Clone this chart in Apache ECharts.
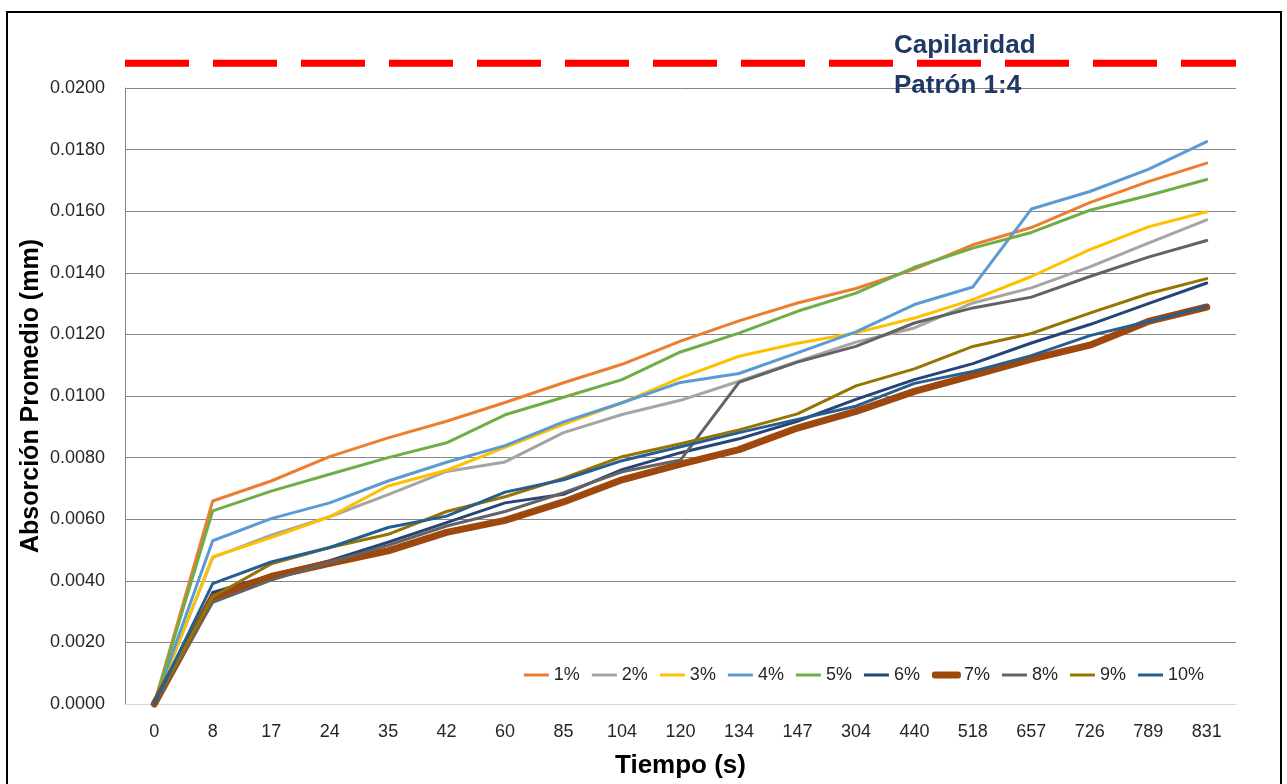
<!DOCTYPE html>
<html>
<head>
<meta charset="utf-8">
<script src="https://cdn.jsdelivr.net/npm/echarts@6/dist/echarts.min.js"></script>
<style>
html,body{margin:0;padding:0;background:#fff;}
#chart{width:1287px;height:784px;}
</style>
</head>
<body>
<div id="chart"></div>
<script>
// ---- data ----
const categories = ['0','8','17','24','35','42','60','85','104','120','134','147','304','440','518','657','726','789','831'];
const seriesNames = ['1%','2%','3%','4%','5%','6%','7%','8%','9%','10%'];
const s1  = [0, 0.00659, 0.00724, 0.00803, 0.00864, 0.00918, 0.00979, 0.01043, 0.01103, 0.01178, 0.01244, 0.01302, 0.01349, 0.01412, 0.01491, 0.01547, 0.01628, 0.01696, 0.01756];
const s2  = [0, 0.00475, 0.00548, 0.00608, 0.00680, 0.00755, 0.00786, 0.00881, 0.00940, 0.00986, 0.01048, 0.01112, 0.01175, 0.01221, 0.01302, 0.01351, 0.01419, 0.01496, 0.01572];
const s3  = [0, 0.00478, 0.00540, 0.00608, 0.00708, 0.00759, 0.00833, 0.00908, 0.00978, 0.01059, 0.01129, 0.01171, 0.01205, 0.01253, 0.01313, 0.01388, 0.01475, 0.01549, 0.01598];
const s4  = [0, 0.00530, 0.00602, 0.00653, 0.00724, 0.00785, 0.00839, 0.00916, 0.00978, 0.01044, 0.01073, 0.01140, 0.01208, 0.01297, 0.01354, 0.01607, 0.01664, 0.01736, 0.01826];
const s5  = [0, 0.00627, 0.00691, 0.00746, 0.00800, 0.00848, 0.00939, 0.00996, 0.01053, 0.01143, 0.01204, 0.01275, 0.01334, 0.01418, 0.01480, 0.01531, 0.01603, 0.01651, 0.01703];
const s6  = [0, 0.00362, 0.00418, 0.00465, 0.00525, 0.00589, 0.00653, 0.00681, 0.00761, 0.00816, 0.00861, 0.00918, 0.00989, 0.01053, 0.01105, 0.01172, 0.01232, 0.01300, 0.01367];
const s7  = [0, 0.00346, 0.00414, 0.00457, 0.00497, 0.00557, 0.00596, 0.00656, 0.00728, 0.00779, 0.00826, 0.00896, 0.00950, 0.01015, 0.01067, 0.01120, 0.01165, 0.01242, 0.01289];
const s8  = [0, 0.00330, 0.00402, 0.00460, 0.00515, 0.00578, 0.00625, 0.00686, 0.00754, 0.00792, 0.01044, 0.01110, 0.01161, 0.01237, 0.01286, 0.01321, 0.01388, 0.01451, 0.01505];
const s9  = [0, 0.00348, 0.00455, 0.00508, 0.00551, 0.00625, 0.00673, 0.00733, 0.00803, 0.00845, 0.00890, 0.00942, 0.01033, 0.01088, 0.01161, 0.01203, 0.01269, 0.01332, 0.01381];
const s10 = [0, 0.00391, 0.00461, 0.00508, 0.00573, 0.00610, 0.00688, 0.00728, 0.00790, 0.00835, 0.00881, 0.00924, 0.00967, 0.01041, 0.01080, 0.01131, 0.01196, 0.01242, 0.01291];
const capilaridadPatron = 0.0208;
const capilaridadLabel = 'Capilaridad\nPatrón 1:4';
const yAxisTitle = 'Absorción Promedio (mm)';
const xAxisTitle = 'Tiempo (s)';

const allValues = [s1,s2,s3,s4,s5,s6,s7,s8,s9,s10];
const colors = ['#ED7D31','#A5A5A5','#FFC000','#5B9BD5','#70AD47','#264478','#9E480E','#636363','#997300','#255E91'];
const widths = [3,3,3,3,3,3,7,3,3,3];

const chart = echarts.init(document.getElementById('chart'), null, {renderer:'canvas'});
const FONT = '"Liberation Sans", Arial, sans-serif';

const series = allValues.map((vals, k) => ({
  name: seriesNames[k],
  type: 'line',
  data: vals,
  symbol: 'none',
  smooth: false,
  clip: false,
  lineStyle: { color: colors[k], width: widths[k], cap: 'round', join: 'round' },
  itemStyle: { color: colors[k] },
  emphasis: { disabled: true },
  z: 3 + k
}));
// reference line (Capilaridad Patrón 1:4), spans the full plot width on a hidden 0..1 axis
series.push({
  name: 'capilaridad',
  type: 'line',
  xAxisIndex: 1,
  data: [[0, capilaridadPatron], [1, capilaridadPatron]],
  symbol: 'none',
  clip: false,
  silent: true,
  lineStyle: { color: '#FF0000', width: 7, type: [64, 24], cap: 'butt' },
  itemStyle: { color: '#FF0000' },
  emphasis: { disabled: true },
  z: 2
});

const legendData = seriesNames.map((n, k) => (k === 6
  ? { name: n, icon: 'roundRect', itemStyle: { borderWidth: 4, borderColor: colors[k], borderJoin: 'round' } }
  : { name: n }));

chart.setOption({
  animation: false,
  backgroundColor: '#fff',
  title: {
    text: capilaridadLabel,
    left: 894, top: 26, padding: 0,
    textStyle: { fontFamily: FONT, fontSize: 26, fontWeight: 'bold', color: '#1F3864', lineHeight: 40 }
  },
  graphic: [{
    type: 'rect', silent: true,
    shape: { x: 7, y: 12, width: 1274, height: 820 },
    style: { fill: 'none', stroke: '#000', lineWidth: 2 }
  }],
  legend: {
    data: legendData,
    right: 78, top: 661,
    icon: 'rect',
    itemWidth: 25, itemHeight: 3, itemGap: 12,
    textStyle: { fontFamily: FONT, fontSize: 18, color: '#262626' }
  },
  grid: { left: 125, right: 51, top: 88, bottom: 79, containLabel: false },
  xAxis: [{
    type: 'category',
    data: categories,
    boundaryGap: true,
    name: xAxisTitle,
    nameLocation: 'middle',
    nameGap: 49,
    nameMoveOverlap: false,
    nameTextStyle: { fontFamily: FONT, fontSize: 26, fontWeight: 'bold', color: '#000' },
    axisLine: { lineStyle: { color: '#D9D9D9', width: 1 } },
    axisTick: { show: false },
    axisLabel: { fontFamily: FONT, fontSize: 18, color: '#262626', margin: 19, interval: 0 },
    splitLine: { show: false }
  }, {
    type: 'value', min: 0, max: 1, show: false,
    axisLine: { show: false }, axisLabel: { show: false }, splitLine: { show: false }, axisTick: { show: false }
  }],
  yAxis: {
    type: 'value',
    min: 0, max: 0.02, interval: 0.002,
    name: yAxisTitle,
    nameLocation: 'middle',
    nameGap: 81,
    nameMoveOverlap: false,
    nameRotate: 90,
    nameTextStyle: { fontFamily: FONT, fontSize: 25, fontWeight: 'bold', color: '#000' },
    axisLine: { show: true, lineStyle: { color: '#868686', width: 1 } },
    axisTick: { show: false },
    axisLabel: { fontFamily: FONT, fontSize: 18, color: '#262626', margin: 20, formatter: v => v.toFixed(4) },
    splitLine: { lineStyle: { color: '#868686', width: 1 } }
  },
  series: series
});
</script>
</body>
</html>
